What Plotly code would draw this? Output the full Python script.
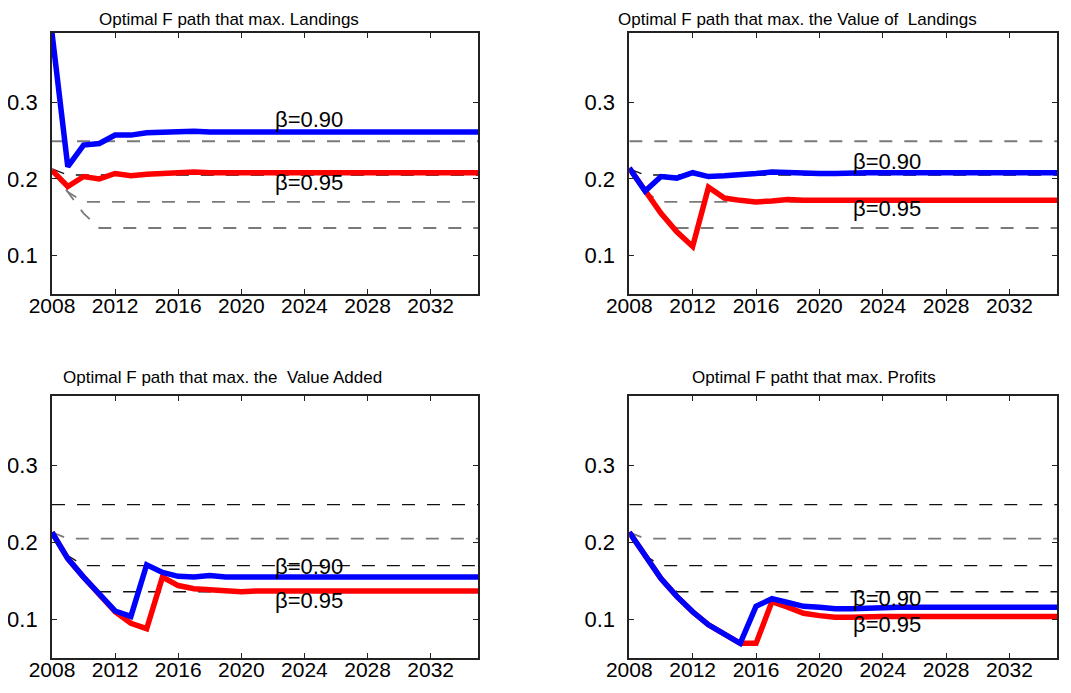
import plotly.graph_objects as go

years = list(range(2008, 2036))

# Panel 1: max. Landings
p1_b90 = [0.390, 0.216, 0.244, 0.246, 0.257, 0.257, 0.260, 0.261, 0.262, 0.262, 0.261, 0.261, 0.261, 0.261,
          0.261, 0.261, 0.261, 0.261, 0.261, 0.261, 0.261, 0.261, 0.261, 0.261, 0.261, 0.261, 0.261, 0.261]
p1_b95 = [0.211, 0.190, 0.203, 0.200, 0.207, 0.204, 0.206, 0.207, 0.208, 0.209, 0.208, 0.208, 0.208, 0.208,
          0.208, 0.208, 0.208, 0.208, 0.208, 0.208, 0.208, 0.208, 0.208, 0.208, 0.208, 0.208, 0.208, 0.208]
# Panel 2: max. Value of Landings
p2_b90 = [0.214, 0.184, 0.203, 0.201, 0.208, 0.203, 0.204, 0.205, 0.207, 0.209, 0.208, 0.207, 0.207, 0.207,
          0.208, 0.208, 0.208, 0.208, 0.208, 0.208, 0.208, 0.208, 0.208, 0.208, 0.208, 0.208, 0.208, 0.208]
p2_b95 = [0.214, 0.183, 0.155, 0.131, 0.112, 0.189, 0.175, 0.172, 0.170, 0.171, 0.173, 0.172, 0.172, 0.172,
          0.172, 0.172, 0.172, 0.172, 0.172, 0.172, 0.172, 0.172, 0.172, 0.172, 0.172, 0.172, 0.172, 0.172]
# Panel 3: max. Value Added
p3_b90 = [0.213, 0.179, 0.155, 0.132, 0.111, 0.104, 0.171, 0.161, 0.156, 0.155, 0.157, 0.155, 0.155, 0.154,
          0.155, 0.155, 0.155, 0.155, 0.155, 0.155, 0.155, 0.155, 0.155, 0.155, 0.155, 0.155, 0.155, 0.155]
p3_b95 = [0.213, 0.179, 0.155, 0.132, 0.110, 0.095, 0.088, 0.155, 0.144, 0.140, 0.139, 0.137, 0.136, 0.137,
          0.137, 0.137, 0.137, 0.137, 0.137, 0.137, 0.137, 0.137, 0.137, 0.137, 0.137, 0.137, 0.137, 0.137]
# Panel 4: max. Profits
p4_b90 = [0.213, 0.182, 0.153, 0.130, 0.110, 0.093, 0.080, 0.069, 0.117, 0.127, 0.122, 0.117, 0.116, 0.114,
          0.114, 0.115, 0.116, 0.116, 0.116, 0.116, 0.116, 0.116, 0.116, 0.116, 0.116, 0.116, 0.116, 0.116]
p4_b95 = [0.213, 0.182, 0.153, 0.130, 0.110, 0.093, 0.080, 0.069, 0.069, 0.123, 0.116, 0.108, 0.105, 0.103,
          0.103, 0.104, 0.104, 0.104, 0.104, 0.104, 0.104, 0.104, 0.104, 0.104, 0.104, 0.104, 0.104, 0.104]

# Reference (dashed) F paths
ref_a = [0.249] * 28
ref_b = [0.213, 0.205, 0.205, 0.205, 0.205, 0.205, 0.205, 0.205, 0.205, 0.205, 0.205, 0.205, 0.205, 0.205,
         0.205, 0.205, 0.205, 0.205, 0.205, 0.205, 0.205, 0.205, 0.205, 0.205, 0.205, 0.205, 0.205, 0.205]
ref_c = [0.213, 0.183, 0.170, 0.170, 0.170, 0.170, 0.170, 0.170, 0.170, 0.170, 0.170, 0.170, 0.170, 0.170,
         0.170, 0.170, 0.170, 0.170, 0.170, 0.170, 0.170, 0.170, 0.170, 0.170, 0.170, 0.170, 0.170, 0.170]
ref_d = [0.213, 0.183, 0.155, 0.136, 0.136, 0.136, 0.136, 0.136, 0.136, 0.136, 0.136, 0.136, 0.136, 0.136,
         0.136, 0.136, 0.136, 0.136, 0.136, 0.136, 0.136, 0.136, 0.136, 0.136, 0.136, 0.136, 0.136, 0.136]

titles = ["Optimal F path that max. Landings",
          "Optimal F path that max. the Value of  Landings",
          "Optimal F path that max. the  Value Added",
          "Optimal F patht that max. Profits"]
label_90 = "β=0.90"
label_95 = "β=0.95"
label_y90 = [0.277, 0.223, 0.169, 0.127]
label_y95 = [0.195, 0.162, 0.125, 0.093]
x_ticks = [2008, 2012, 2016, 2020, 2024, 2028, 2032]
y_ticks = [0.1, 0.2, 0.3]

FONT = "Liberation Sans, Arial, sans-serif"
W, H = 1071, 693
OFF = 8  # page body margin offset compensation

panels = [(p1_b90, p1_b95), (p2_b90, p2_b95), (p3_b90, p3_b95), (p4_b90, p4_b95)]


def xd(a, b):
    return [(a - OFF) / W, (b - OFF) / W]


def yd(top, bottom):
    return [1 - (bottom - OFF) / H, 1 - (top - OFF) / H]


xdomains = [xd(52, 478), xd(629.3, 1057)] * 2
ydomains = [yd(33, 294)] * 2 + [yd(396, 658)] * 2
title_pos = [(229, 8), (797, 8), (222, 366), (814, 366)]

GREY = "#7a7a7a"
BLACK = "#111111"
ref_colors = [
    [GREY, BLACK, GREY, GREY],
    [GREY, BLACK, GREY, GREY],
    [BLACK, GREY, BLACK, BLACK],
    [BLACK, GREY, BLACK, BLACK],
]

fig = go.Figure()
layout = dict(
    template="none",
    width=W, height=H,
    margin=dict(l=0, r=0, t=0, b=0, pad=0),
    paper_bgcolor="white", plot_bgcolor="white",
    showlegend=False,
    font=dict(family=FONT, color="black", size=21),
)
annotations = []

for i, (b90, b95) in enumerate(panels):
    k = "" if i == 0 else str(i + 1)
    xa, ya = "x" + k, "y" + k
    for ref, col in zip([ref_a, ref_b, ref_c, ref_d], ref_colors[i]):
        fig.add_trace(go.Scatter(
            x=years, y=ref, xaxis=xa, yaxis=ya, mode="lines",
            line=dict(color=col, width=1.8 if col == GREY else 1.3, dash="13px,12px"),
            hoverinfo="skip"))
    fig.add_trace(go.Scatter(x=years, y=b95, xaxis=xa, yaxis=ya, mode="lines",
                             line=dict(color="#ff0000", width=5.5), name=label_95))
    fig.add_trace(go.Scatter(x=years, y=b90, xaxis=xa, yaxis=ya, mode="lines",
                             line=dict(color="#0000ff", width=5.5), name=label_90))

    layout["xaxis" + k] = dict(
        domain=xdomains[i], anchor=ya, range=[2008, 2035], automargin=False,
        tickvals=x_ticks, ticktext=[str(v) for v in x_ticks],
        ticks="inside", ticklen=5, tickwidth=1.3, tickcolor="#222",
        showline=True, linecolor="#222", linewidth=1.8, mirror="allticks",
        showgrid=False, zeroline=False, ticklabelstandoff=-8,
        tickfont=dict(family=FONT, size=21, color="black"),
    )
    layout["yaxis" + k] = dict(
        domain=ydomains[i], anchor=xa, range=[0.05, 0.39], automargin=False,
        tickvals=y_ticks, ticktext=["0.1", "0.2", "0.3"],
        ticks="inside", ticklen=5, tickwidth=1.3, tickcolor="#222",
        showline=True, linecolor="#222", linewidth=1.8, mirror="allticks",
        showgrid=False, zeroline=False, ticklabelstandoff=8,
        tickfont=dict(family=FONT, size=22, color="black"),
    )
    annotations.append(dict(
        text=label_90, x=2022, y=label_y90[i], xref=xa, yref=ya,
        xanchor="left", yanchor="middle", showarrow=False,
        font=dict(family=FONT, size=22, color="black")))
    annotations.append(dict(
        text=label_95, x=2022, y=label_y95[i], xref=xa, yref=ya,
        xanchor="left", yanchor="middle", showarrow=False,
        font=dict(family=FONT, size=22, color="black")))
    tx, ty = title_pos[i]
    annotations.append(dict(
        text=titles[i], x=(tx - OFF) / W, y=1 - (ty - OFF) / H, xref="paper", yref="paper",
        xanchor="center", yanchor="top", showarrow=False,
        font=dict(family=FONT, size=17, color="black")))

layout["annotations"] = annotations
fig.update_layout(**layout)
fig.write_html("out.html")
